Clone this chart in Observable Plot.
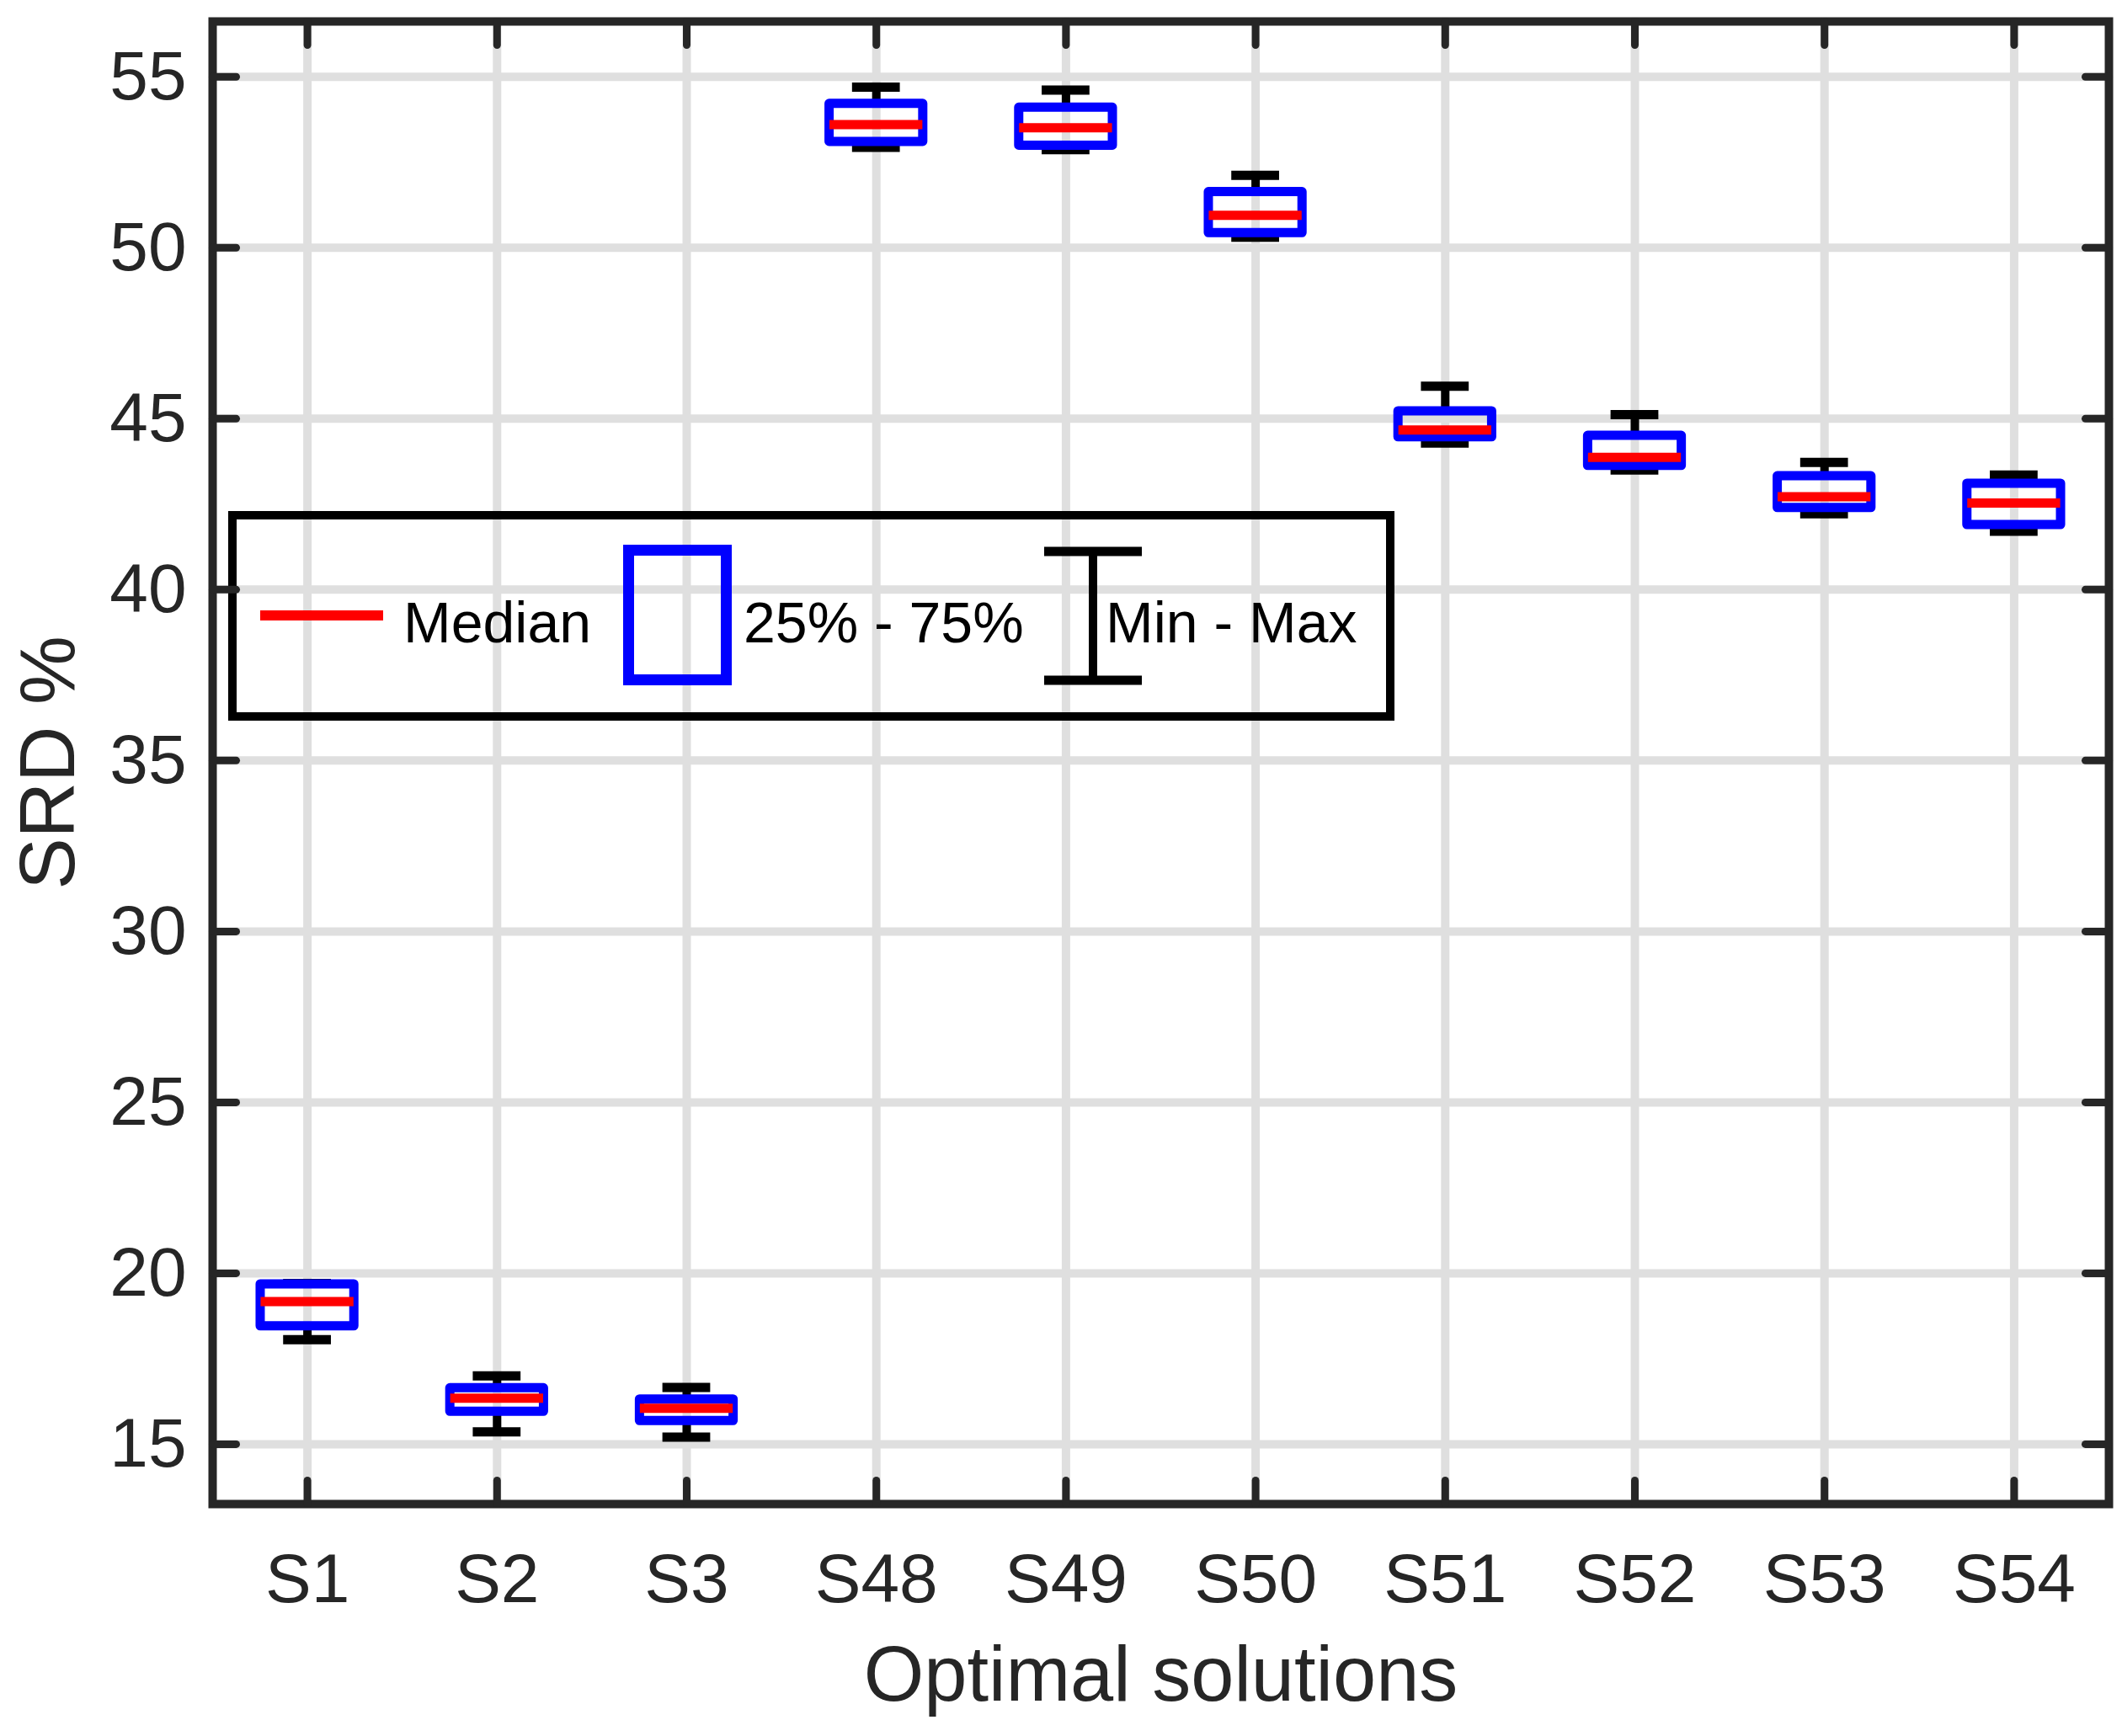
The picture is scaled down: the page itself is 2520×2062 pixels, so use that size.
<!DOCTYPE html>
<html><head><meta charset="utf-8">
<script src="https://cdn.jsdelivr.net/npm/d3@7"></script>
<script src="https://cdn.jsdelivr.net/npm/@observablehq/plot@0.6"></script>
<style>html,body{margin:0;padding:0;background:#fff;}#chart{width:2520px;height:2062px;}</style>
</head><body><div id="chart"></div>
<script>
const categories = ["S1","S2","S3","S48","S49","S50","S51","S52","S53","S54"];
const minValues    = [18.06, 15.36, 15.21, 52.94, 52.87, 50.31, 44.29, 43.50, 42.22, 41.71];
const q1Values     = [18.45, 15.95, 15.68, 53.10, 52.99, 50.43, 44.46, 43.62, 42.39, 41.89];
const medianValues = [19.17, 16.35, 16.05, 53.60, 53.51, 50.95, 44.67, 43.87, 42.72, 42.53];
const q3Values     = [19.68, 16.64, 16.31, 54.21, 54.10, 51.63, 45.22, 44.50, 43.32, 43.10];
const maxValues    = [19.70, 17.00, 16.66, 54.70, 54.61, 52.12, 45.95, 45.12, 43.72, 43.35];
const yTicks = [15, 20, 25, 30, 35, 40, 45, 50, 55];
const legendLabels = ["Median", "25% - 75%", "Min - Max"];
const xLabel = "Optimal solutions";
const yLabel = "SRD %";

const rows = categories.map((c, k) => ({
  pos: k + 1, cat: c,
  min: minValues[k], q1: q1Values[k], med: medianValues[k], q3: q3Values[k], max: maxValues[k]
}));
const xTicks = rows.map(r => r.pos);
const xDomain = [0.5, categories.length + 0.5];
const yDomain = [13.25, 56.62];

const boxHalf = 0.247, medHalf = 0.245, capHalf = 0.126;
const frameColor = "#262626";
const font = "'Liberation Sans', Arial, Helvetica, sans-serif";
const lineShape = {draw(context, l) { context.moveTo(0, 0); context.lineTo(0, -l); }};

function legendMark(index, scales, values, dims) {
  const L = dims.marginLeft, T = dims.marginTop;
  const g = d3.create("svg:g");
  g.append("rect").attr("x", L + 24).attr("y", T + 587).attr("width", 1375).attr("height", 239)
    .attr("fill", "none").attr("stroke", "#000").attr("stroke-width", 10);
  g.append("line").attr("x1", L + 57).attr("x2", L + 203).attr("y1", T + 706).attr("y2", T + 706)
    .attr("stroke", "#ff0000").attr("stroke-width", 12);
  g.append("rect").attr("x", L + 494.5).attr("y", T + 628.5).attr("width", 116).attr("height", 154)
    .attr("fill", "none").attr("stroke", "#0000ff").attr("stroke-width", 13);
  const wx = L + 1046;
  g.append("line").attr("x1", wx).attr("x2", wx).attr("y1", T + 630).attr("y2", T + 783)
    .attr("stroke", "#000").attr("stroke-width", 10);
  for (const yy of [T + 630, T + 783]) {
    g.append("line").attr("x1", wx - 58).attr("x2", wx + 58).attr("y1", yy).attr("y2", yy)
      .attr("stroke", "#000").attr("stroke-width", 11);
  }
  const textX = [L + 227, L + 631, L + 1061];
  legendLabels.forEach((t, k) => {
    g.append("text").attr("x", textX[k]).attr("y", T + 738).attr("font-size", 68)
      .attr("text-anchor", "start")
      .attr("font-family", font).attr("fill", "#000").text(t);
  });
  return g.node();
}

const chart = Plot.plot({
  width: 2520, height: 2062,
  marginLeft: 252, marginRight: 16, marginTop: 25, marginBottom: 276,
  style: {fontFamily: font, fontSize: "82px", color: frameColor, background: "#fff"},
  x: {type: "linear", domain: xDomain},
  y: {type: "linear", domain: yDomain},
  marks: [
    Plot.gridX(xTicks, {stroke: "#dfdfdf", strokeOpacity: 1, strokeWidth: 10}),
    Plot.gridY(yTicks, {stroke: "#dfdfdf", strokeOpacity: 1, strokeWidth: 10}),
    Plot.ruleX(rows, {x: "pos", y1: "q3", y2: "max", stroke: "#000", strokeWidth: 10}),
    Plot.ruleX(rows, {x: "pos", y1: "min", y2: "q1", stroke: "#000", strokeWidth: 10}),
    Plot.ruleY(rows, {y: "max", x1: d => d.pos - capHalf, x2: d => d.pos + capHalf, stroke: "#000", strokeWidth: 11}),
    Plot.ruleY(rows, {y: "min", x1: d => d.pos - capHalf, x2: d => d.pos + capHalf, stroke: "#000", strokeWidth: 11}),
    Plot.rect(rows, {x1: d => d.pos - boxHalf, x2: d => d.pos + boxHalf, y1: "q1", y2: "q3",
      fill: "none", stroke: "#0000ff", strokeWidth: 11, strokeLinejoin: "round"}),
    Plot.ruleY(rows, {y: "med", x1: d => d.pos - medHalf, x2: d => d.pos + medHalf, stroke: "#ff0000", strokeWidth: 11}),
    legendMark,
    Plot.frame({stroke: frameColor, strokeWidth: 10}),
    Plot.vector(yTicks, {x: () => xDomain[0], y: d => d, length: 28, rotate: 90, anchor: "start", shape: lineShape, stroke: frameColor, strokeWidth: 9}),
    Plot.vector(yTicks, {x: () => xDomain[1], y: d => d, length: 28, rotate: -90, anchor: "start", shape: lineShape, stroke: frameColor, strokeWidth: 9}),
    Plot.vector(xTicks, {x: d => d, y: () => yDomain[0], length: 28, rotate: 0, anchor: "start", shape: lineShape, stroke: frameColor, strokeWidth: 9}),
    Plot.vector(xTicks, {x: d => d, y: () => yDomain[1], length: 28, rotate: 180, anchor: "start", shape: lineShape, stroke: frameColor, strokeWidth: 9}),
    Plot.axisY({ticks: yTicks, tickSize: 0, tickPadding: 31, fontSize: 82, label: null, anchor: "left"}),
    Plot.axisX({ticks: xTicks, tickFormat: i => categories[i - 1], tickSize: 0, tickPadding: 58, fontSize: 82, label: null, anchor: "bottom"}),
    Plot.text([xLabel], {text: d => d, frameAnchor: "bottom", dy: 233, fontSize: 92, lineAnchor: "bottom", textAnchor: "middle", fill: frameColor}),
    Plot.text([yLabel], {text: d => d, frameAnchor: "left", dx: -165, rotate: -90, fontSize: 92, lineAnchor: "bottom", textAnchor: "middle", fill: frameColor})
  ]
});
document.getElementById("chart").appendChild(chart);
</script>
</body></html>
